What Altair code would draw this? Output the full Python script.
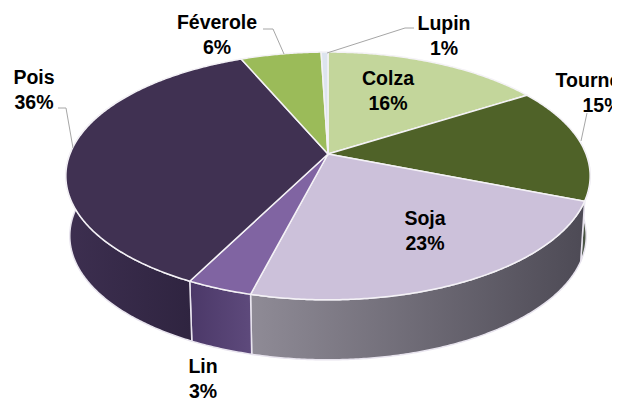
import math
import altair as alt
import pandas as pd

# --- data ---
names = ["Colza", "Tournesol", "Soja", "Lin", "Pois", "Féverole", "Lupin"]
shares = [16.0, 15.0, 23.0, 3.45, 36.15, 5.9, 0.5]
shown = [16, 15, 23, 3, 36, 6, 1]

# --- styles ---
top_colors = ["#c3d69b", "#4f6228", "#ccc1da", "#8064a2", "#403152", "#9bbb59", "#dde4ee"]
side_stops = {
    "Tournesol": ("#59636b", "#3e4a22"),
    "Soja": ("#8f8b96", "#4d4a55"),
    "Lin": ("#4b3868", "#5e4a7c"),
    "Pois": ("#3d2f50", "#2f2440"),
}

# --- layout: perspective disc ---
CX, CY = 328 - 8, 154 - 8      # apex inside the plot group
B, A, K = 258.0, 120.0, -0.177
DEPTH = 60.0 / B
SHRINK = 0.985
START = 0.0


def rim(theta_deg, bottom=False):
    t = math.radians(theta_deg)
    X, Y = math.sin(t), -math.cos(t)
    w = 1 + K * Y
    x, y = X / w, (A / B) * Y / w
    if bottom:
        return [x * SHRINK, y + DEPTH]
    return [x, y]


def arc(a0, a1, bottom=False):
    n = max(2, int(abs(a1 - a0) * 2))
    return [rim(a0 + (a1 - a0) * i / n, bottom) for i in range(n + 1)]


def feature(ring, name):
    ring = ring + [ring[0]]
    return {"type": "Feature", "properties": {"name": name},
            "geometry": {"type": "Polygon", "coordinates": [ring]}}


def geo(ring, name, **mark):
    return (alt.Chart(alt.Data(values=[feature(ring, name)]))
            .mark_geoshape(**mark)
            .project(type="identity", scale=B, translate=[CX, CY]))


layers = []

# sides first, then the top faces
acc = START
spans = []
for n, s in zip(names, shares):
    spans.append((n, acc, acc + s * 3.6))
    acc += s * 3.6

for n, a0, a1 in spans:
    if n not in side_stops:
        continue
    lo, hi = max(a0, 85), min(a1, 300)
    ring = arc(lo, hi) + arc(hi, lo, bottom=True)
    c0, c1 = side_stops[n]
    grad = alt.LinearGradient(gradient="linear", x1=0, x2=1, y1=0, y2=0,
                              stops=[alt.GradientStop(color=c0, offset=0),
                                     alt.GradientStop(color=c1, offset=1)])
    layers.append(geo(ring, n, fill=grad, stroke="#e8e4ee", strokeWidth=1.5))

for (n, a0, a1), col in zip(spans, top_colors):
    ring = [[0.0, 0.0]] + arc(a0, a1)
    layers.append(geo(ring, n, fill=col, stroke="#f4f2f6", strokeWidth=1.5))

# leader lines (page pixels minus margin)
leaders = {
    "Féverole": [(263, 29), (273, 29), (284, 54)],
    "Lupin": [(414, 28), (405, 28), (327, 53)],
    "Tournesol": [(587, 113), (581, 141)],
    "Pois": [(58, 108), (66, 108), (73, 148)],
}
rows = []
for n, pts in leaders.items():
    for i, (x, y) in enumerate(pts):
        rows.append({"name": n, "i": i, "x": x - 8, "y": y - 8})
layers.append(alt.Chart(pd.DataFrame(rows)).mark_line(color="#a6a6a6", strokeWidth=1).encode(
    x=alt.X("x:Q", scale=None, axis=None),
    y=alt.Y("y:Q", scale=None, axis=None),
    detail="name:N", order="i:Q"))

# labels: centre x, y of the first line's middle
label_pos = {
    "Colza": (388, 79), "Tournesol": (602, 81), "Soja": (425, 219), "Lin": (203, 367),
    "Pois": (34, 78), "Féverole": (217, 23), "Lupin": (444, 24),
}
for n, s in zip(names, shown):
    x, y = label_pos[n]
    for k, txt in enumerate([n, f"{s}%"]):
        layers.append(alt.Chart(alt.Data(values=[{"t": txt}])).mark_text(
            font="Liberation Sans", fontWeight="bold", fontSize=19.5, color="#000000",
            align="center", baseline="middle").encode(
            text="t:N", x=alt.value(x - 8), y=alt.value(y - 8 + k * 24.5)))

chart = alt.layer(*layers).properties(
    width=604, height=392, padding=0, autosize=alt.AutoSizeParams(type="none"),
    background="#ffffff",
).configure_view(stroke=None)

chart.save("out.html", embed_options={"renderer": "svg", "actions": False})
